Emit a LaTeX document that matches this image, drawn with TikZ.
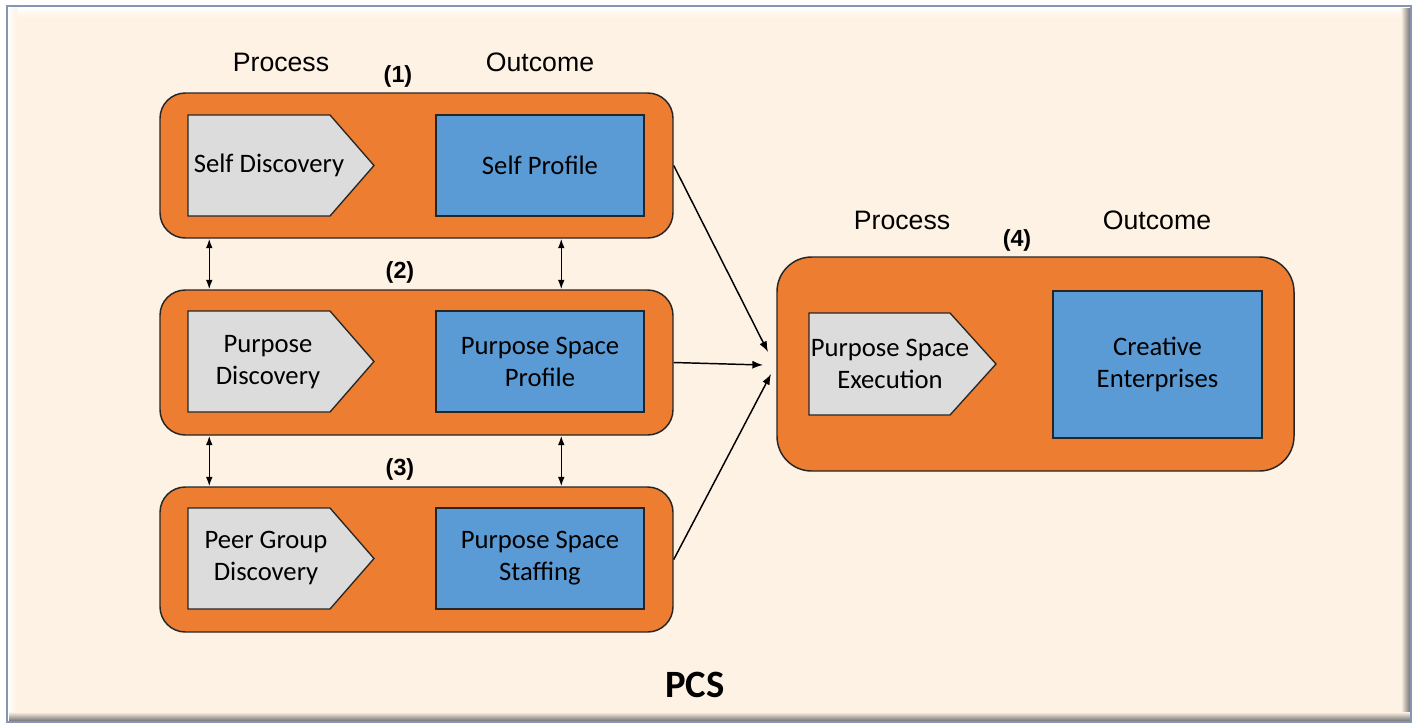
\documentclass[tikz,border=0pt]{standalone}
\usepackage{fontspec}
\setmainfont{Carlito}
\newfontfamily\arialf{Liberation Sans}
\usetikzlibrary{arrows.meta,calc}
\definecolor{cream}{HTML}{FEF2E4}
\definecolor{orng}{HTML}{ED7D31}
\definecolor{blu}{HTML}{5B9BD5}
\definecolor{gry}{HTML}{DCDCDC}
\definecolor{edge}{HTML}{262626}
\definecolor{frameline}{HTML}{8496B0}
\begin{document}
\begin{tikzpicture}[x=0.75pt,y=-0.75pt,
 container/.style={draw=edge, line width=1.1pt, fill=orng, rounded corners=19pt, inner sep=0pt},
 outbox/.style={draw=edge, line width=1pt, fill=blu, inner sep=0pt, align=center, font=\fontsize{20}{24}\selectfont},
 pentshape/.style={draw=edge, line width=1pt, fill=gry},
 btext/.style={align=center, font=\fontsize{20}{24}\selectfont, inner sep=0pt},
 hdr/.style={font=\arialf\fontsize{20}{24}\selectfont, inner sep=0pt},
 num/.style={font=\arialf\bfseries\fontsize{17.5}{21}\selectfont, inner sep=0pt},
 conn/.style={line width=1.1pt, -{Latex[length=8pt,width=6pt]}},
 dconn/.style={line width=1.1pt, {Latex[length=7pt,width=5pt]}-{Latex[length=7pt,width=5pt]}}
]
\useasboundingbox (0,0) rectangle (1420,726);
% frame
\fill[white] (0,0) rectangle (1420,726);
\fill[cream] (7,6) rectangle (1411,722);
\shade[top color=white, bottom color=cream] (7,6) rectangle (1411,18);
\shade[left color=white, right color=cream] (7,6) rectangle (17,722);
\shade[left color=cream, right color=black!60] (1401,8) rectangle (1411,722);
\shade[top color=cream, bottom color=black!60] (9,712) rectangle (1411,722);
\draw[frameline, line width=1.2pt] (7,6) rectangle (1411,722);

% containers
\node[container, minimum width=384.75pt, minimum height=108.75pt] (c1) at (416.5,165.5) {};
\node[container, minimum width=384.75pt, minimum height=108.75pt] (c2) at (416.5,362.5) {};
\node[container, minimum width=384.75pt, minimum height=108.75pt] (c3) at (416.5,559.5) {};
\node[container, rounded corners=26pt, minimum width=387.75pt, minimum height=160.5pt] (c4) at (1035.5,364) {};

% process pentagons
\draw[pentshape] (188,115) -- (330,115) -- (374,165.5) -- (330,216) -- (188,216) -- cycle;
\draw[pentshape] (188,311) -- (330,311) -- (374,361.5) -- (330,412) -- (188,412) -- cycle;
\draw[pentshape] (188,508) -- (330,508) -- (374,558.5) -- (330,609) -- (188,609) -- cycle;
\draw[pentshape] (809,313) -- (950,313) -- (996,364) -- (950,415) -- (809,415) -- cycle;
\node[btext] (p1) at (269,165) {Self Discovery};
\node[btext] (p2) at (268,362) {Purpose\\Discovery};
\node[btext] (p3) at (266,558) {Peer Group\\Discovery};
\node[btext] (p4) at (890,364) {Purpose Space\\Execution};

% outcome boxes
\node[outbox, minimum width=156pt, minimum height=75.75pt] (o1) at (540,165.5) {Self Profile};
\node[outbox, minimum width=156pt, minimum height=75.75pt] (o2) at (540,361.5) {Purpose Space\\Profile};
\node[outbox, minimum width=156pt, minimum height=75.75pt] (o3) at (540,558.5) {Purpose Space\\Staffing};
\node[outbox, minimum width=156.75pt, minimum height=110.25pt] (o4) at (1157.5,364.5) {Creative\\Enterprises};

% labels
\node[hdr] (h1) at (281,62) {Process};
\node[hdr] (h2) at (540,62) {Outcome};
\node[hdr] (h3) at (902,220) {Process};
\node[hdr] (h4) at (1157,220) {Outcome};
\node[num] (n1) at (398,76) {(1)};
\node[num] (n2) at (400,272) {(2)};
\node[num] (n3) at (400,469) {(3)};
\node[num] (n4) at (1017,240) {(4)};
\node[font=\bfseries\fontsize{29}{34}\selectfont, inner sep=0pt] (pcs) at (695,685) {PCS};

% vertical double arrows
\draw[dconn] ([xshift=37.5pt]c1.south west) -- ([xshift=37.5pt]c2.north west);
\draw[dconn] ([xshift=301.5pt]c1.south west) -- ([xshift=301.5pt]c2.north west);
\draw[dconn] ([xshift=37.5pt]c2.south west) -- ([xshift=37.5pt]c3.north west);
\draw[dconn] ([xshift=301.5pt]c2.south west) -- ([xshift=301.5pt]c3.north west);

% converging arrows
\coordinate (t1) at (768,352);
\coordinate (t2) at (763,365);
\coordinate (t3) at (771,374);
\draw[conn] (c1.east) -- (t1);
\draw[conn] (c2.east) -- (t2);
\draw[conn] (c3.east) -- (t3);
\end{tikzpicture}
\end{document}
